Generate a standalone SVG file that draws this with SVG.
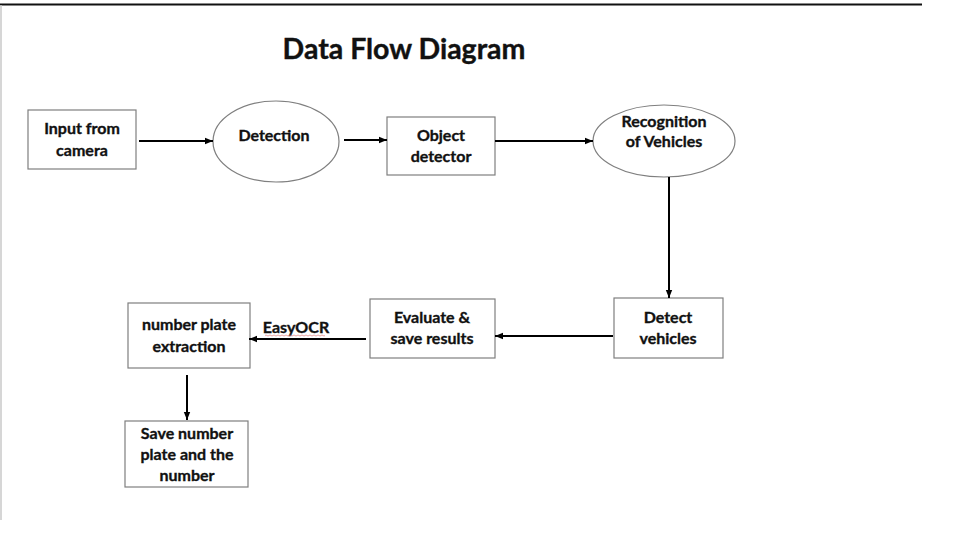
<svg xmlns="http://www.w3.org/2000/svg" width="954" height="550" viewBox="0 0 954 550">
<defs>
<marker id="ah" viewBox="0 0 10 10" refX="10" refY="5" markerWidth="4" markerHeight="4" orient="auto" markerUnits="strokeWidth">
<path d="M0,1 L10,5 L0,9 z" fill="#000"/>
</marker>
<style>
.box{fill:#fff;stroke:#7f7f7f;stroke-width:1.2}
.t{font-family:Lato,"Liberation Sans",sans-serif;font-weight:bold;font-size:16px;fill:#111;stroke:#111;stroke-width:0.35;text-anchor:middle}
.c{stroke:#000;stroke-width:2;fill:none;marker-end:url(#ah)}
</style>
</defs>
<rect width="954" height="550" fill="#fff"/>
<line x1="0" y1="4.5" x2="922" y2="4.5" stroke="#111" stroke-width="2"/>
<line x1="1" y1="5" x2="1" y2="520" stroke="#c8c8c8" stroke-width="1.5"/>
<text x="404" y="59" font-family="Lato,'Liberation Sans',sans-serif" font-weight="bold" font-size="28.5" fill="#111" stroke="#111" stroke-width="0.4" text-anchor="middle">Data Flow Diagram</text>

<g id="input">
<rect class="box" x="28" y="110" width="108" height="59"/>
<text class="t" x="82" y="134">Input from</text>
<text class="t" x="82" y="156">camera</text>
</g>
<g id="detection">
<ellipse class="box" cx="276" cy="141.5" rx="63" ry="40.5"/>
<text class="t" x="274" y="141">Detection</text>
</g>
<g id="objdet">
<rect class="box" x="387" y="117" width="108" height="58"/>
<text class="t" x="441" y="141">Object</text>
<text class="t" x="441" y="162">detector</text>
</g>
<g id="recog">
<ellipse class="box" cx="664" cy="141" rx="71" ry="36"/>
<text class="t" x="664" y="127">Recognition</text>
<text class="t" x="664" y="147">of Vehicles</text>
</g>
<g id="detectveh">
<rect class="box" x="614" y="298" width="109" height="60"/>
<text class="t" x="668" y="323">Detect</text>
<text class="t" x="668" y="344">vehicles</text>
</g>
<g id="evaluate">
<rect class="box" x="370" y="299" width="125" height="59"/>
<text class="t" x="432" y="323">Evaluate &amp;</text>
<text class="t" x="432" y="344">save results</text>
</g>
<g id="npe">
<rect class="box" x="128" y="303" width="122" height="65"/>
<text class="t" x="189" y="330">number plate</text>
<text class="t" x="189" y="352">extraction</text>
</g>
<g id="save">
<rect class="box" x="125" y="421" width="123" height="66"/>
<text class="t" x="187" y="439">Save number</text>
<text class="t" x="187" y="460">plate and the</text>
<text class="t" x="187" y="481">number</text>
</g>

<g id="connectors">
<line class="c" x1="139" y1="141" x2="213" y2="141"/>
<line class="c" x1="344" y1="140" x2="387" y2="140"/>
<line class="c" x1="495" y1="141" x2="593" y2="141"/>
<line class="c" x1="669" y1="177" x2="669" y2="298"/>
<line class="c" x1="613" y1="336" x2="495" y2="336"/>
<line class="c" x1="366" y1="339" x2="249" y2="339"/>
<line class="c" x1="187" y1="375" x2="187" y2="420"/>
<text class="t" x="296" y="333">EasyOCR</text>
<path d="M265,335.5 q1,-1 2,0 t2,0 t2,0 t2,0 t2,0 t2,0 t2,0 t2,0 t2,0 t2,0 t2,0 t2,0 t2,0 t2,0 t2,0 t2,0 t2,0 t2,0 t2,0 t2,0 t2,0 t2,0 t2,0 t2,0 t2,0 t2,0 t2,0 t2,0 t2,0 t2,0" fill="none" stroke="#e08080" stroke-width="0.7"/>
</g>
</svg>
